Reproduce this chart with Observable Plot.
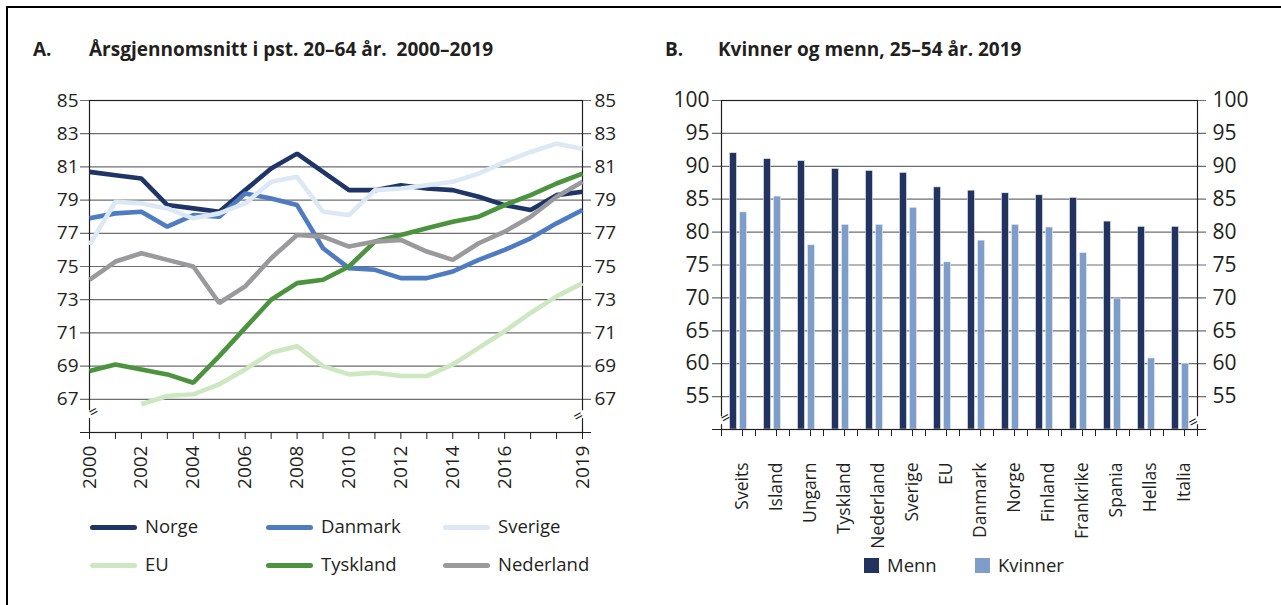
<!DOCTYPE html>
<html><head><meta charset="utf-8">
<script src="https://cdn.jsdelivr.net/npm/d3@7"></script>
<script src="https://cdn.jsdelivr.net/npm/@observablehq/plot@0.6"></script>
<style>
body{margin:0;background:#fff;}
#page{position:relative;width:1281px;height:605px;overflow:hidden;font-family:"Open Sans",sans-serif;color:#231f20;background:#fff;}
.frame{position:absolute;left:6px;top:6px;width:1300px;height:620px;border-top:2.5px solid #000;border-left:2.5px solid #000;}
.title{position:absolute;font-weight:bold;font-size:19px;line-height:22px;white-space:pre;}
.panel{position:absolute;}
.leg{position:absolute;font-size:18.5px;line-height:22px;white-space:nowrap;}
.sw{position:absolute;height:5px;border-radius:3px;width:47px;}
.sq{position:absolute;width:15px;height:15px;}
</style></head>
<body><div id="page">
<div class="frame"></div>
<div class="title" style="left:33px;top:38px">A.</div>
<div class="title" style="left:89px;top:38px">Årsgjennomsnitt i pst. 20–64 år.  2000–2019</div>
<div class="title" style="left:665px;top:38px">B.</div>
<div class="title" style="left:718px;top:38px">Kvinner og menn, 25–54 år. 2019</div>
<div class="panel" id="pa" style="left:0;top:80px"></div>
<div class="panel" id="pb" style="left:640px;top:80px"></div>
<div id="legA"></div>
<div id="legB"></div>
</div>
<script>
// ---------- Panel A data ----------
const years = [2000,2001,2002,2003,2004,2005,2006,2007,2008,2009,2010,2011,2012,2013,2014,2015,2016,2017,2018,2019];
const yearLabels = [2000,2002,2004,2006,2008,2010,2012,2014,2016,2019];
const seriesNames = ["Norge","Danmark","Sverige","EU","Tyskland","Nederland"];
const seriesColors = ["#1f3566","#4f7bc0","#dce8f4","#cde7c1","#4c933f","#9a9a9c"];
const norge     = [80.7,80.5,80.3,78.7,78.5,78.3,79.6,80.9,81.8,80.7,79.6,79.6,79.9,79.7,79.6,79.2,78.7,78.4,79.3,79.5];
const danmark   = [77.9,78.2,78.3,77.4,78.1,78.0,79.4,79.1,78.7,76.1,74.9,74.8,74.3,74.3,74.7,75.4,76.0,76.7,77.6,78.4];
const sverige   = [76.3,78.9,78.8,78.5,77.9,78.2,78.8,80.1,80.4,78.3,78.1,79.6,79.7,79.9,80.1,80.6,81.3,81.9,82.4,82.1];
const eu        = [null,null,66.7,67.2,67.3,67.9,68.8,69.8,70.2,69.0,68.5,68.6,68.4,68.4,69.1,70.1,71.1,72.2,73.2,74.0];
const tyskland  = [68.7,69.1,68.8,68.5,68.0,69.6,71.3,73.0,74.0,74.2,75.0,76.5,76.9,77.3,77.7,78.0,78.7,79.3,80.0,80.6];
const nederland = [74.2,75.3,75.8,75.4,75.0,72.8,73.8,75.5,76.9,76.8,76.2,76.5,76.6,75.9,75.4,76.4,77.1,78.0,79.2,80.1];
const yTicksA = [67,69,71,73,75,77,79,81,83,85];
const yDomainA = [65,85];
const breakA = 66.1;

// ---------- Panel B data ----------
const countries = ["Sveits","Island","Ungarn","Tyskland","Nederland","Sverige","EU","Danmark","Norge","Finland","Frankrike","Spania","Hellas","Italia"];
const menn    = [92.0,91.1,90.8,89.6,89.3,89.0,86.8,86.3,85.9,85.6,85.2,81.6,80.8,80.8];
const kvinner = [83.0,85.4,78.0,81.1,81.1,83.7,75.4,78.7,81.1,80.7,76.8,69.9,60.8,60.0];
const groupNames = ["Menn","Kvinner"];
const groupColors = ["#22335f","#7f9dc9"];
const yTicksB = [55,60,65,70,75,80,85,90,95,100];
const yDomainB = [50,100];
const breakB = 51.4;

const ink = "#231f20", gridCol = "#6d6e71";
const font = {fontFamily:"'Open Sans', sans-serif", fontSize:"18px", color:ink, background:"transparent", overflow:"visible"};

// ---------- Panel A ----------
const seriesValues = [norge,danmark,sverige,eu,tyskland,nederland];
const tableA = seriesNames.flatMap((name,i) => years.map((year,j) => ({name, year, value: seriesValues[i][j]}))).filter(d => d.value != null);

const plotA = Plot.plot({
  width: 640, height: 440,
  marginLeft: 89, marginRight: 58, marginTop: 20, marginBottom: 88,
  x: {domain: [years[0], years[years.length-1]]},
  y: {domain: yDomainA},
  color: {domain: seriesNames, range: seriesColors},
  style: font,
  marks: [
    Plot.ruleY(yTicksA, {stroke: gridCol, strokeWidth: 1.2, insetLeft: -9, insetRight: -9}),
    Plot.axisY({ticks: yTicksA, anchor: "left", tickSize: 0, tickPadding: 11, label: null, fontSize: 19}),
    Plot.axisY({ticks: yTicksA, anchor: "right", tickSize: 0, tickPadding: 12, label: null, fontSize: 19}),
    Plot.frame({stroke: ink, strokeWidth: 1.2}),
    Plot.ruleY([yDomainA[0]], {stroke: ink, strokeWidth: 1.2, insetLeft: -9, insetRight: -9}),
    Plot.axisX({ticks: years, tickSize: 7, tickPadding: 6, tickRotate: -90, label: null, fontSize: 19,
      tickFormat: d => yearLabels.includes(d) ? String(d) : ""}),
    Plot.line(tableA, {x: "year", y: "value", z: "name", stroke: "name", strokeWidth: 4.6, strokeLinejoin: "miter", strokeLinecap: "butt"}),
    Plot.dot([breakA], {y: d => d, frameAnchor: "left", r: 4, fill: "white"}),
    Plot.dot([breakA], {y: d => d, frameAnchor: "right", r: 4, fill: "white"}),
    Plot.text([breakA], {y: d => d, frameAnchor: "left", text: () => "=", rotate: -28, fontSize: 16, fill: ink}),
    Plot.text([breakA], {y: d => d, frameAnchor: "right", text: () => "=", rotate: -28, fontSize: 16, fill: ink})
  ]
});
document.getElementById("pa").appendChild(plotA);

// ---------- Panel B ----------
const tableB = countries.flatMap((c,i) => [
  {country: c, group: groupNames[0], value: menn[i]},
  {country: c, group: groupNames[1], value: kvinner[i]}
]);
const plotB = Plot.plot({
  width: 641, height: 470,
  marginLeft: 81, marginRight: 84, marginTop: 20, marginBottom: 121,
  x: {domain: countries, padding: 0},
  y: {domain: yDomainB},
  color: {domain: groupNames, range: groupColors},
  style: font,
  marks: [
    Plot.ruleY(yTicksB, {stroke: gridCol, strokeWidth: 1.2, insetLeft: -9, insetRight: -9}),
    Plot.axisY({ticks: yTicksB, anchor: "left", tickSize: 0, tickPadding: 12, label: null, fontSize: 21}),
    Plot.axisY({ticks: yTicksB, anchor: "right", tickSize: 0, tickPadding: 15, label: null, fontSize: 21}),
    Plot.barY(tableB.filter(d => d.group === groupNames[0]), {x: "country", y1: yDomainB[0], y2: "value", fill: "group", insetLeft: 8.5, insetRight: 18.5, stroke: "#e8eef6", strokeWidth: 0.6}),
    Plot.barY(tableB.filter(d => d.group === groupNames[1]), {x: "country", y1: yDomainB[0], y2: "value", fill: "group", insetLeft: 18.5, insetRight: 8.5, stroke: "#e8eef6", strokeWidth: 0.6}),
    Plot.frame({stroke: ink, strokeWidth: 1.2}),
    Plot.ruleY([yDomainB[0]], {stroke: ink, strokeWidth: 1.2, insetLeft: -9, insetRight: -9}),
    Plot.axisX({ticks: countries, tickSize: 7, tickPadding: 26, tickRotate: -90, label: null, fontSize: 17.5, dx: 4}),
    Plot.axisX({ticks: countries, tickSize: 7, dx: -17, tickFormat: () => "", label: null}),
    Plot.axisX({ticks: [countries[countries.length-1]], tickSize: 7, dx: 17, tickFormat: () => "", label: null}),
    Plot.dot([breakB], {y: d => d, frameAnchor: "left", r: 4, fill: "white"}),
    Plot.dot([breakB], {y: d => d, frameAnchor: "right", r: 4, fill: "white"}),
    Plot.text([breakB], {y: d => d, frameAnchor: "left", text: () => "=", rotate: -28, fontSize: 16, fill: ink}),
    Plot.text([breakB], {y: d => d, frameAnchor: "right", text: () => "=", rotate: -28, fontSize: 16, fill: ink})
  ]
});
document.getElementById("pb").appendChild(plotB);

// ---------- Legends ----------
const legA = document.getElementById("legA");
const colX = [90, 266, 443];
const rowY = [527, 565];
seriesNames.forEach((name, i) => {
  const cx = colX[i % 3], cy = rowY[Math.floor(i / 3)];
  const sw = document.createElement("div");
  sw.className = "sw"; sw.style.left = cx + "px"; sw.style.top = (cy - 2.5) + "px"; sw.style.background = seriesColors[i];
  legA.appendChild(sw);
  const t = document.createElement("div");
  t.className = "leg"; t.textContent = name; t.style.left = (cx + 55) + "px"; t.style.top = (cy - 12) + "px";
  legA.appendChild(t);
});
const legB = document.getElementById("legB");
const legBX = [864, 975];
groupNames.forEach((name, i) => {
  const sq = document.createElement("div");
  sq.className = "sq"; sq.style.left = legBX[i] + "px"; sq.style.top = "558px"; sq.style.background = groupColors[i];
  legB.appendChild(sq);
  const t = document.createElement("div");
  t.className = "leg"; t.textContent = name; t.style.left = (legBX[i] + 23) + "px"; t.style.top = "554px";
  legB.appendChild(t);
});
</script>
</body></html>
